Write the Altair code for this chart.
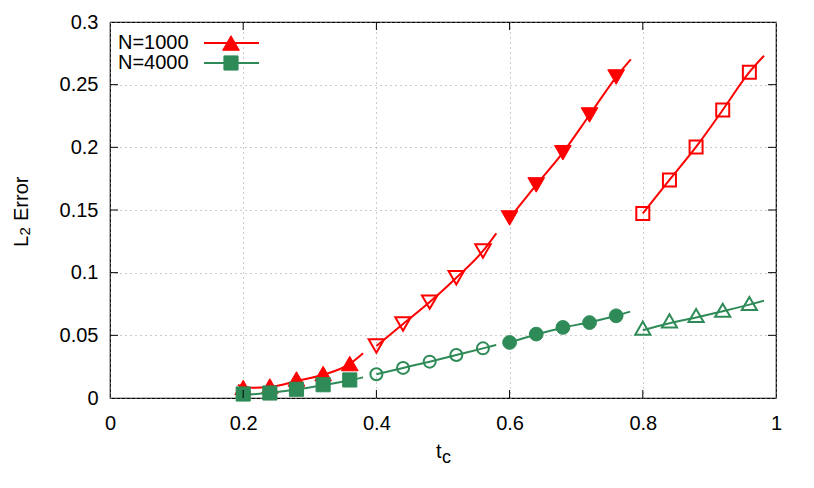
import altair as alt
import pandas as pd

# ---------------- data ----------------
series_names = ["N=1000", "N=4000"]
series_colors = ["#ff0000", "#2e8b57"]

# t_c positions of the markers in the four segments
seg1_t = [0.20, 0.24, 0.28, 0.32, 0.36]
seg2_t = [0.40, 0.44, 0.48, 0.52, 0.56]
seg3_t = [0.60, 0.64, 0.68, 0.72, 0.76]
seg4_t = [0.80, 0.84, 0.88, 0.92, 0.96]

# N=1000 marker values
red_seg1 = [0.0084, 0.0096, 0.0152, 0.0195, 0.0275]
red_seg2 = [0.0415, 0.0590, 0.0765, 0.0960, 0.1173]
red_seg3 = [0.1436, 0.1700, 0.1957, 0.2258, 0.2561]
red_seg4 = [0.1473, 0.1740, 0.2003, 0.2298, 0.2600]

# N=4000 marker values
green_seg1 = [0.0032, 0.0040, 0.0070, 0.0106, 0.0144]
green_seg2 = [0.0190, 0.0240, 0.0290, 0.0343, 0.0396]
green_seg3 = [0.0443, 0.0510, 0.0563, 0.0602, 0.0656]
green_seg4 = [0.0558, 0.0615, 0.0658, 0.0700, 0.0754]

# fitted curves
red_fit1_t = [0.192, 0.20, 0.215, 0.24, 0.28, 0.32, 0.36, 0.38]
red_fit1_v = [0.0105, 0.0090, 0.0082, 0.0088, 0.0135, 0.0185, 0.0272, 0.0357]
red_fit2_t = [0.40, 0.44, 0.48, 0.52, 0.56, 0.58]
red_fit2_v = [0.0415, 0.0590, 0.0765, 0.0960, 0.1173, 0.1314]
red_fit3_t = [0.60, 0.64, 0.68, 0.72, 0.76, 0.782]
red_fit3_v = [0.1436, 0.1700, 0.1957, 0.2258, 0.2561, 0.2702]
red_fit4_t = [0.80, 0.84, 0.88, 0.92, 0.96, 0.982]
red_fit4_v = [0.1473, 0.1740, 0.2003, 0.2298, 0.2600, 0.2731]

green_fit1_t = [0.19, 0.20, 0.24, 0.28, 0.32, 0.36, 0.38]
green_fit1_v = [0.0022, 0.0025, 0.0042, 0.0068, 0.0103, 0.0142, 0.0165]
green_fit2_t = [0.40, 0.44, 0.48, 0.52, 0.56, 0.58]
green_fit2_v = [0.0190, 0.0240, 0.0290, 0.0343, 0.0396, 0.0423]
green_fit3_t = [0.60, 0.64, 0.68, 0.72, 0.76, 0.781]
green_fit3_v = [0.0443, 0.0507, 0.0561, 0.0604, 0.0656, 0.0689]
green_fit4_t = [0.80, 0.84, 0.88, 0.92, 0.96, 0.982]
green_fit4_v = [0.0540, 0.0597, 0.0643, 0.0692, 0.0745, 0.0776]

x_tick_values = [0, 0.2, 0.4, 0.6, 0.8, 1]
y_tick_values = [0, 0.05, 0.1, 0.15, 0.2, 0.25, 0.3]
x_inner_ticks = [0.2, 0.4, 0.6, 0.8]
y_inner_ticks = [0.05, 0.1, 0.15, 0.2, 0.25]

# ---------------- chart ----------------
W, H = 666, 376
FONT = "Liberation Sans"
FS = 20

x_scale = alt.Scale(domain=[0, 1], nice=False, zero=False)
y_scale = alt.Scale(domain=[0, 0.3], nice=False, zero=False)

x_axis = alt.Axis(values=x_tick_values, format="~g", ticks=False, domain=False,
                  grid=True, gridDash=[1, 4], gridColor="#999999", gridWidth=1,
                  labelFontSize=FS, labelFont=FONT, labelColor="black",
                  labelPadding=15, title=None, labelFlush=False)
y_axis = alt.Axis(values=y_tick_values, format="~g", ticks=False, domain=False,
                  grid=True, gridDash=[1, 4], gridColor="#999999", gridWidth=1,
                  labelFontSize=FS, labelFont=FONT, labelColor="black",
                  labelPadding=12, labelFlush=False, title=None)

X = lambda: alt.X("t:Q", scale=x_scale, axis=x_axis)
Y = lambda: alt.Y("v:Q", scale=y_scale, axis=y_axis)


def fit_df(parts):
    rows = []
    for k, (ts, vs) in enumerate(parts):
        for t, v in zip(ts, vs):
            rows.append({"t": t, "v": v, "fit": k})
    return pd.DataFrame(rows)


def pts_df(ts, vs):
    return pd.DataFrame({"t": ts, "v": vs})


red_lines = fit_df([(red_fit1_t, red_fit1_v), (red_fit2_t, red_fit2_v),
                    (red_fit3_t, red_fit3_v), (red_fit4_t, red_fit4_v)])
green_lines = fit_df([(green_fit1_t, green_fit1_v), (green_fit2_t, green_fit2_v),
                      (green_fit3_t, green_fit3_v), (green_fit4_t, green_fit4_v)])


def line_layer(df, color):
    return alt.Chart(df).mark_line(color=color, strokeWidth=2, interpolate="monotone").encode(
        x=X(), y=Y(), detail="fit:N",
    )


STYLE = {
    ("triangle-up", True): 280,
    ("triangle-down", True): 280,
    ("triangle-up", False): 230,
    ("triangle-down", False): 240,
    ("square", True): 200,
    ("square", False): 169,
    ("circle", True): 190,
    ("circle", False): 144,
}


def point_mark(shape, filled, color):
    size = STYLE[(shape, filled)]
    if filled:
        return dict(shape=shape, size=size, filled=True, fill=color, stroke=color,
                    strokeWidth=1, opacity=1)
    return dict(shape=shape, size=size, filled=False, fill="white", fillOpacity=0,
                stroke=color, strokeWidth=2, opacity=1)


def point_layer(ts, vs, shape, filled, color):
    return alt.Chart(pts_df(ts, vs)).mark_point(**point_mark(shape, filled, color)).encode(
        x=X(), y=Y(),
    )


red, green = series_colors

layers = [
    line_layer(red_lines, red),
    point_layer(seg1_t, red_seg1, "triangle-up", True, red),
    point_layer(seg2_t, red_seg2, "triangle-down", False, red),
    point_layer(seg3_t, red_seg3, "triangle-down", True, red),
    point_layer(seg4_t, red_seg4, "square", False, red),
    line_layer(green_lines, green),
    point_layer(seg1_t, green_seg1, "square", True, green),
    point_layer(seg2_t, green_seg2, "circle", False, green),
    point_layer(seg3_t, green_seg3, "circle", True, green),
    point_layer(seg4_t, green_seg4, "triangle-up", False, green),
]

# inward ticks on all four sides (gnuplot style)
TL = 8
xt = pd.DataFrame({"t": x_inner_ticks})
yt = pd.DataFrame({"v": y_inner_ticks})
layers += [
    alt.Chart(xt).mark_rule(color="black", strokeWidth=1).encode(
        x=X(), y=alt.value(H), y2=alt.value(H - TL)),
    alt.Chart(xt).mark_rule(color="black", strokeWidth=1).encode(
        x=X(), y=alt.value(0), y2=alt.value(TL)),
    alt.Chart(yt).mark_rule(color="black", strokeWidth=1).encode(
        y=Y(), x=alt.value(0), x2=alt.value(TL)),
    alt.Chart(yt).mark_rule(color="black", strokeWidth=1).encode(
        y=Y(), x=alt.value(W), x2=alt.value(W - TL)),
]


def label(txt, x, y, size, angle=0):
    kw = dict(font=FONT, fontSize=size, align="left", baseline="alphabetic", color="black")
    if angle:
        kw["angle"] = angle
    return alt.Chart(pd.DataFrame({"s": [txt]})).mark_text(**kw).encode(
        text="s:N", x=alt.value(x), y=alt.value(y))


# x-axis title t_c
layers += [
    label("t", 326, 436, FS),
    label("c", 332, 441, 18),
]

# y-axis title L_2 Error (rotated, reading upwards)
layers += [
    label("L", -82, 225, FS, 270),
    label("2", -80.5, 213.5, 15, 270),
    label("Error", -82, 199, FS, 270),
]

# legend (text left, sample right, gnuplot style)
legend_shapes = [("triangle-up", True), ("square", True)]
for i, name in enumerate(series_names):
    ly = 21 + 20 * i
    col = series_colors[i]
    shp, fl = legend_shapes[i]
    layers += [
        alt.Chart(pd.DataFrame({"s": [name]})).mark_text(
            font=FONT, fontSize=FS, align="left", baseline="middle", color="black").encode(
            text="s:N", x=alt.value(8), y=alt.value(ly)),
        alt.Chart(pd.DataFrame({"s": [name]})).mark_rule(color=col, strokeWidth=2).encode(
            x=alt.value(94), x2=alt.value(149), y=alt.value(ly)),
        alt.Chart(pd.DataFrame({"s": [name]})).mark_point(**point_mark(shp, fl, col)).encode(
            x=alt.value(121), y=alt.value(ly)),
    ]

chart = alt.layer(*layers).properties(
    width=W, height=H,
    autosize=alt.AutoSizeParams(type="none"),
    padding={"left": 102, "top": 14, "right": 30, "bottom": 90},
    background="white",
).configure(font=FONT).configure_view(stroke="black", strokeWidth=1.2)

chart.save("out.html", embed_options={"renderer": "svg", "actions": False})
